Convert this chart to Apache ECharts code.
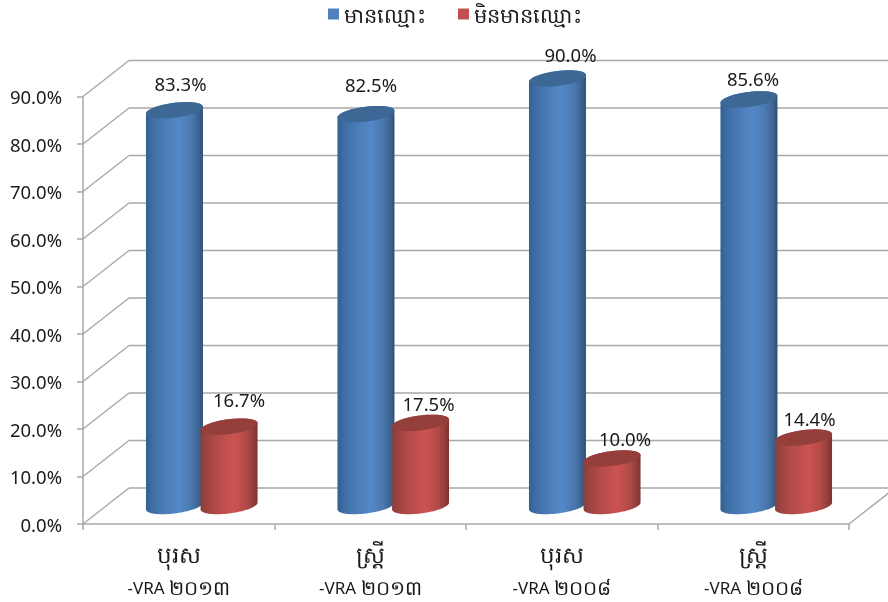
<!DOCTYPE html>
<html><head><meta charset="utf-8">
<style>html,body{margin:0;padding:0;background:#fff}#c{width:888px;height:602px}</style>
<script src="https://cdn.jsdelivr.net/npm/echarts@6/dist/echarts.min.js"></script>
</head><body><div id="c"></div>
<script>
// ---- data ----
const genders = ['បុរស','ស្ត្រី','បុរស','ស្ត្រី'];
const surveyPrefix = '-VRA';
const surveyYears = ['២០១៣','២០១៣','២០០៨','២០០៨'];
const hasNameLabel = 'មានឈ្មោះ';
const noNameLabel = 'មិនមានឈ្មោះ';
const hasName = [83.3,82.5,90.0,85.6];
const noName  = [16.7,17.5,10.0,14.4];
const yTicks  = [0,10,20,30,40,50,60,70,80,90];

// ---- 3D look ----
const FONT = '"Noto Sans","DejaVu Sans",sans-serif';
const DEPTH_X = 46, DEPTH_Y = -36;      // floor depth in pixels
const RX = 28.5, RY = 7.5, SHEAR = 0.12;  // cylinder cap
const GRID_COLOR = '#a9a9a9';
// hand-placed data label nudges, as in the original
const nudgeBlue = [[6,-25],[5,-27],[13,-22],[4,-19]];
const nudgeRed  = [[10,-25],[8,-17],[13,-18],[6,-17]];

function ellipse(cx, cy, from, to, n){
  const pts=[];
  for(let i=0;i<=n;i++){
    const t=from+(to-from)*i/n, ox=RX*Math.cos(t);
    pts.push([cx+ox, cy+RY*Math.sin(t)-SHEAR*ox]);
  }
  return pts;
}
function hGrad(stops){
  return {type:'linear',x:0,y:0,x2:1,y2:0,colorStops:stops.map(s=>({offset:s[0],color:s[1]}))};
}
function cylinder(shift, side, cap, nudge){
  return function(params, api){
    const i=api.value(0), v=api.value(1);
    const band=api.size([1,0])[0];
    const base=api.coord([i,0]), top=api.coord([i,v]);
    const cx=base[0]+DEPTH_X/2+shift*band;
    const by=base[1]+DEPTH_Y/2, ty=top[1]+DEPTH_Y/2;
    const body=ellipse(cx,by,0,Math.PI,40).concat(ellipse(cx,ty,Math.PI,2*Math.PI,40));
    return {type:'group',children:[
      {type:'polygon',shape:{points:body},style:{fill:hGrad(side)}},
      {type:'polygon',shape:{points:ellipse(cx,ty,0,2*Math.PI,60)},style:{fill:cap}},
      {type:'text',style:{x:cx+nudge[i][0],y:ty+nudge[i][1],text:v.toFixed(1)+'%',
        font:'18.5px '+FONT,fill:'#1a1a1a',align:'center',verticalAlign:'middle'}}
    ]};
  };
}
const blueSide=[[0,'#34608f'],[0.12,'#3f6ea5'],[0.35,'#4c7db9'],[0.58,'#5388c8'],[0.8,'#4a78ae'],[0.93,'#3c628f'],[1,'#2f4f75']];
const redSide =[[0,'#84403c'],[0.12,'#a04441'],[0.35,'#b94d4a'],[0.58,'#cb5452'],[0.8,'#b34b48'],[0.93,'#913e3b'],[1,'#7a3331']];

const chart=echarts.init(document.getElementById('c'),null,{renderer:'canvas'});
chart.setOption({
  animation:false,
  textStyle:{fontFamily:FONT},
  legend:{
    data:[hasNameLabel,noNameLabel],left:323,top:2,itemWidth:11,itemHeight:11,itemGap:32,icon:'rect',
    formatter:n=>'{t|'+n+'}',
    textStyle:{color:'#1a1a1a',fontFamily:FONT,
      rich:{t:{fontSize:21,color:'#1a1a1a',fontFamily:FONT,padding:[7,0,0,0]}}}
  },
  grid:{left:83,right:39,top:96.5,bottom:78},
  xAxis:{type:'category',data:genders,
    axisLine:{lineStyle:{color:GRID_COLOR,width:1.5}},
    axisTick:{show:true,length:6,lineStyle:{color:GRID_COLOR,width:1.5}},
    axisLabel:{margin:14,interval:0,
      formatter:(v,i)=>'{a|'+v+'}\n{b|'+surveyPrefix+' }{c|'+surveyYears[i]+'}',
      rich:{a:{fontSize:23,lineHeight:36,color:'#1a1a1a',fontFamily:FONT},
            b:{fontSize:17,lineHeight:31,color:'#1a1a1a',fontFamily:FONT},
            c:{fontSize:20,lineHeight:31,color:'#1a1a1a',fontFamily:FONT}}}
  },
  yAxis:{type:'value',min:0,max:90,interval:10,
    axisLine:{show:true,lineStyle:{color:GRID_COLOR,width:1.5}},
    axisTick:{show:true,length:6,lineStyle:{color:GRID_COLOR,width:1.5}},
    splitLine:{show:false},
    axisLabel:{margin:21,fontSize:18.5,color:'#1a1a1a',fontFamily:FONT,
      formatter:v=>'{t|'+v.toFixed(1)+'%}',
      rich:{t:{fontSize:18.5,color:'#1a1a1a',fontFamily:FONT,padding:[5,0,0,0]}}}
  },
  series:[
    {name:'walls',type:'custom',silent:true,z:1,data:yTicks.map(t=>[0,t]),
      encode:{x:0,y:1},
      renderItem(params,api){
        const t=api.value(1), rect=params.coordSys;
        const y=api.coord([0,t])[1], x0=rect.x, x1=rect.x+rect.width;
        const line={stroke:GRID_COLOR,lineWidth:1.5,fill:null};
        const kids=[
          {type:'line',shape:{x1:x0,y1:y,x2:x0+DEPTH_X,y2:y+DEPTH_Y},style:line},
          {type:'line',shape:{x1:x0+DEPTH_X,y1:y+DEPTH_Y,x2:x1+DEPTH_X,y2:y+DEPTH_Y},style:line}
        ];
        if(t===0) kids.push({type:'line',shape:{x1:x1,y1:y,x2:x1+DEPTH_X,y2:y+DEPTH_Y},style:line});
        return {type:'group',children:kids};
      }},
    {name:hasNameLabel,type:'custom',z:2,itemStyle:{color:'#4f81bd'},encode:{x:0,y:1},
      data:hasName.map((v,i)=>[i,v]),renderItem:cylinder(-0.1425,blueSide,'#3d6795',nudgeBlue)},
    {name:noNameLabel,type:'custom',z:3,itemStyle:{color:'#c0504d'},encode:{x:0,y:1},
      data:noName.map((v,i)=>[i,v]),renderItem:cylinder(0.1425,redSide,'#943f3c',nudgeRed)}
  ]
});
</script></body></html>
